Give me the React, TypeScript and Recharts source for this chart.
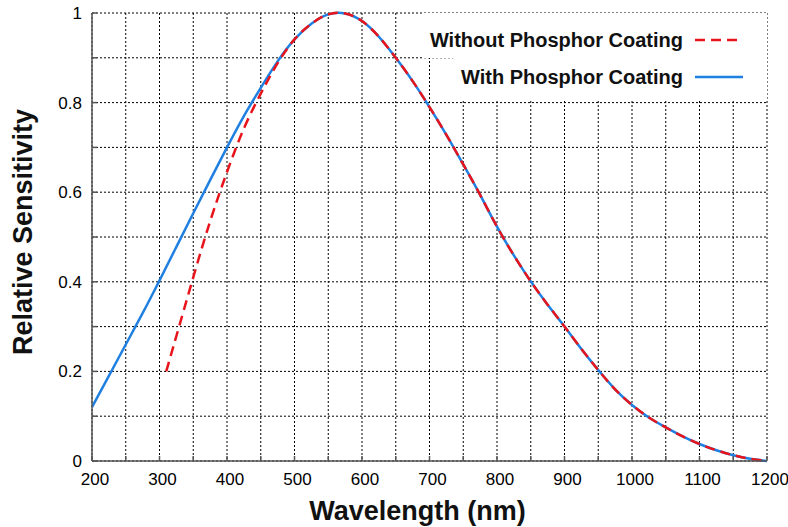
import React from 'react'
import { LineChart, Line, XAxis, YAxis, CartesianGrid, Legend } from 'recharts'

// Wavelength (nm) / relative sensitivity
const withWavelengths = [
  200, 225, 250, 275, 300, 325, 350, 375, 400, 425, 450, 475, 500, 525, 550, 575, 600,
  625, 650, 675, 700, 725, 750, 775, 800, 825, 850, 875, 900, 925, 950, 975, 1000, 1025,
  1050, 1075, 1100, 1125, 1150, 1175, 1200
]
const withSensitivity = [
  0.12, 0.19, 0.26, 0.33, 0.403, 0.478, 0.553, 0.627, 0.7, 0.77, 0.833, 0.892, 0.941, 0.976,
  0.997, 0.999, 0.982, 0.947, 0.9, 0.848, 0.79, 0.728, 0.662, 0.594, 0.523, 0.459, 0.401,
  0.349, 0.3, 0.25, 0.203, 0.16, 0.125, 0.097, 0.075, 0.055, 0.038, 0.024, 0.013, 0.005, 0.0
]

const withoutWavelengths = [
  310, 325, 350, 375, 400, 425, 450, 475, 500, 525, 550, 575, 600, 625, 650, 675, 700,
  725, 750, 775, 800, 825, 850, 875, 900, 925, 950, 975, 1000, 1025, 1050, 1075, 1100, 1125,
  1150, 1175, 1200
]
const withoutSensitivity = [
  0.2, 0.279, 0.41, 0.535, 0.645, 0.742, 0.82, 0.888, 0.941, 0.976, 0.997, 0.999, 0.982,
  0.947, 0.9, 0.848, 0.79, 0.728, 0.662, 0.594, 0.523, 0.459, 0.401, 0.349, 0.3, 0.25, 0.203,
  0.16, 0.125, 0.097, 0.075, 0.055, 0.038, 0.024, 0.013, 0.005, 0.0
]

const xTicks = [
  200, 250, 300, 350, 400, 450, 500, 550, 600, 650, 700, 750, 800, 850, 900, 950, 1000, 1050,
  1100, 1150, 1200
]
const yTicks = [0, 0.1, 0.2, 0.3, 0.4, 0.5, 0.6, 0.7, 0.8, 0.9, 1]

const withData = withWavelengths.map((x, i) => ({ x, y: withSensitivity[i] }))
const withoutData = withoutWavelengths.map((x, i) => ({ x, y: withoutSensitivity[i] }))

const FONT = '"Liberation Sans", Arial, sans-serif'
const FRAME = '#555'
const RED = '#e8141c'
const BLUE = '#1f80e2'

const LegendBox = (props: any) => {
  const items = [...(props.payload || [])].reverse()
  return (
    <div style={{ display: 'flex', flexDirection: 'column', alignItems: 'flex-end', fontFamily: FONT }}>
      {items.map((item: any, i: number) => (
        <div
          key={item.value}
          style={{
            display: 'flex',
            alignItems: 'center',
            whiteSpace: 'nowrap',
            background: '#fff',
            height: 37,
            paddingTop: i === 0 ? 8 : 0,
            paddingBottom: i === items.length - 1 ? 5 : 0,
            paddingLeft: 8,
            paddingRight: 24
          }}
        >
          <span style={{ fontSize: 20, fontWeight: 'bold', color: '#111', lineHeight: 1 }}>{item.value}</span>
          <svg width={48} height={6} style={{ marginLeft: 12, flexShrink: 0 }}>
            <line
              x1={0}
              y1={3}
              x2={48}
              y2={3}
              stroke={item.color}
              strokeWidth={2.5}
              strokeDasharray={item.payload && item.payload.strokeDasharray}
            />
          </svg>
        </div>
      ))}
    </div>
  )
}

export default function App() {
  return (
    <div style={{ position: 'absolute', left: 0, top: 0, width: 788, height: 527, background: '#fff' }}>
      <LineChart width={788} height={527} margin={{ top: 13, right: 21, bottom: 0, left: 0 }}>
        <CartesianGrid stroke="#000" strokeDasharray="2 2" strokeWidth={1} />
        <XAxis
          type="number"
          dataKey="x"
          domain={[200, 1200]}
          ticks={xTicks}
          allowDataOverflow
          height={66}
          tickSize={-5}
          tickMargin={17}
          stroke={FRAME}
          strokeWidth={1.5}
          tick={{ fill: '#000', fontSize: 17, fontFamily: FONT, dx: 3 }}
          tickFormatter={(v: number) => (v % 100 === 0 ? String(v) : '')}
          label={{
            content: ({ viewBox }: any) => (
              <text
                x={viewBox.x + viewBox.width / 2 - 12}
                y={520}
                textAnchor="middle"
                fontSize={27}
                fontWeight="bold"
                fontFamily={FONT}
                fill="#111"
              >
                Wavelength (nm)
              </text>
            )
          }}
        />
        <XAxis
          xAxisId="top"
          orientation="top"
          type="number"
          dataKey="x"
          domain={[200, 1200]}
          ticks={xTicks}
          height={0}
          tick={false}
          tickSize={-5}
          stroke={FRAME}
          strokeWidth={1.5}
        />
        <YAxis
          type="number"
          domain={[0, 1]}
          ticks={yTicks}
          width={92}
          tickSize={-5}
          tickMargin={15}
          stroke={FRAME}
          strokeWidth={1.5}
          tick={{ fill: '#000', fontSize: 17, fontFamily: FONT }}
          tickFormatter={(v: number) => (Math.round(v * 10) % 2 === 0 ? String(v) : '')}
          label={{
            content: ({ viewBox }: any) => {
              const cy = viewBox.y + viewBox.height / 2 - 5
              return (
                <text
                  x={32}
                  y={cy}
                  transform={`rotate(-90, 32, ${cy})`}
                  textAnchor="middle"
                  fontSize={27}
                  fontWeight="bold"
                  fontFamily={FONT}
                  fill="#111"
                >
                  Relative Sensitivity
                </text>
              )
            }
          }}
        />
        <YAxis
          yAxisId="right"
          orientation="right"
          type="number"
          domain={[0, 1]}
          ticks={yTicks}
          width={0}
          tick={false}
          tickSize={-5}
          stroke={FRAME}
          strokeWidth={1.5}
        />
        <Line
          data={withData}
          dataKey="y"
          name="With Phosphor Coating"
          type="natural"
          stroke={BLUE}
          strokeWidth={2.5}
          dot={false}
          activeDot={false}
          isAnimationActive={false}
        />
        <Line
          data={withoutData}
          dataKey="y"
          name="Without Phosphor Coating"
          type="natural"
          stroke={RED}
          strokeWidth={2.5}
          strokeDasharray="10 6"
          dot={false}
          activeDot={false}
          isAnimationActive={false}
        />
        <Legend
          layout="vertical"
          align="center"
          verticalAlign="middle"
          content={LegendBox}
          wrapperStyle={{ left: 417, top: 13, width: 350, height: 'auto' }}
        />
      </LineChart>
    </div>
  )
}
